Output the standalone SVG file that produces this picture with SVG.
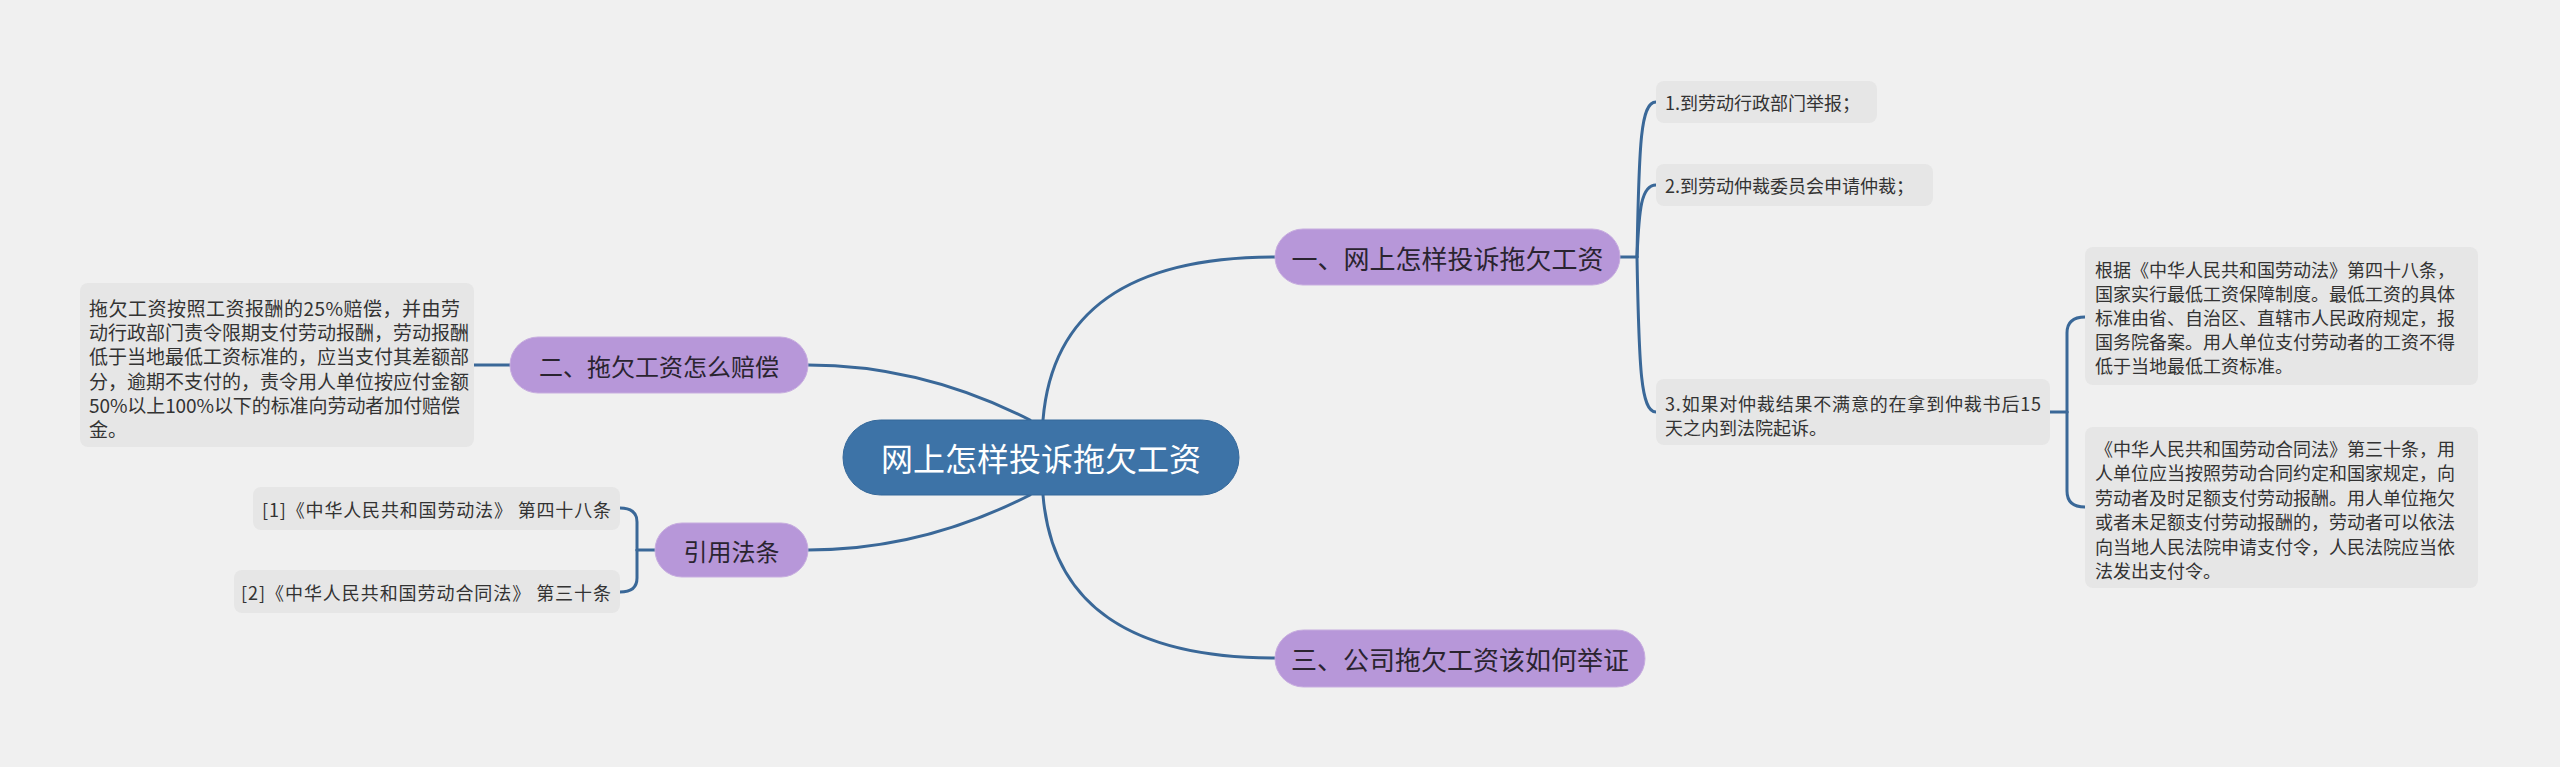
<svg xmlns="http://www.w3.org/2000/svg" width="2560" height="767" viewBox="0 0 2560 767">
<style>
text{font-family:"Noto Sans CJK SC","Noto Sans",sans-serif;dominant-baseline:central}
.conn{fill:none;stroke:#3a6898;stroke-width:3;stroke-linecap:round}
.leaf{fill:#e6e6e6}
.lt{font-size:18px;fill:#333333}
.lt19{font-size:19px;fill:#333333}
.sub{fill:#b797d9;stroke:#c7addf;stroke-width:1}
.st{fill:#2a2430;text-anchor:middle}
</style>
<rect width="2560" height="767" fill="#f0f0f0"/>
<g id="connectors">
<path class="conn" d="M1043,420 C1052,310 1130,257 1275,257"/>
<path class="conn" d="M1043,495 C1052,605 1130,658 1275,658"/>
<path class="conn" d="M1030,420 C975,392 900,365 808,365"/>
<path class="conn" d="M1030,495 C975,523 900,550 808,550"/>
<path class="conn" d="M474,365 L510,365"/>
<path class="conn" d="M655,550 L637,550"/>
<path class="conn" d="M637,550 L637,522 Q637,508 620,508"/>
<path class="conn" d="M637,550 L637,578 Q637,592 620,592"/>
<path class="conn" d="M1620,257 L1637,257"/>
<path class="conn" d="M1637,257 C1639,140 1641,102 1656,102"/>
<path class="conn" d="M1637,257 C1639,210 1641,185 1656,185"/>
<path class="conn" d="M1637,257 C1639,370 1641,412 1656,412"/>
<path class="conn" d="M2050,412 L2067,412"/>
<path class="conn" d="M2067,412 L2067,333 Q2067,317 2085,317"/>
<path class="conn" d="M2067,412 L2067,491 Q2067,507 2085,507"/>
</g>
<g id="center">
<rect x="843" y="420" width="396" height="75" rx="37.5" fill="#3d73a7" stroke="#35689a" stroke-width="1"/>
<text x="1041" y="457" font-size="32" fill="#ffffff" text-anchor="middle">网上怎样投诉拖欠工资</text>
</g>
<g id="n1">
<rect class="sub" x="1275" y="229" width="345" height="56" rx="28"/>
<text class="st" x="1447.5" y="257" font-size="26">一、网上怎样投诉拖欠工资</text>
</g>
<g id="n2">
<rect class="sub" x="510" y="337" width="298" height="56" rx="28"/>
<text class="st" x="659" y="365" font-size="24">二、拖欠工资怎么赔偿</text>
</g>
<g id="n3">
<rect class="sub" x="1275" y="630" width="370" height="57" rx="28.5"/>
<text class="st" x="1460" y="658.5" font-size="26">三、公司拖欠工资该如何举证</text>
</g>
<g id="n4">
<rect class="sub" x="655" y="523" width="153" height="54" rx="27"/>
<text class="st" x="731.5" y="550" font-size="24">引用法条</text>
</g>
<g id="leaf-1-1">
<rect class="leaf" x="1656" y="81" width="221" height="42" rx="8"/>
<text class="lt" x="1665" y="102">1.到劳动行政部门举报；</text>
</g>
<g id="leaf-1-2">
<rect class="leaf" x="1656" y="164" width="277" height="42" rx="8"/>
<text class="lt" x="1665" y="185">2.到劳动仲裁委员会申请仲裁；</text>
</g>
<g id="leaf-1-3">
<rect class="leaf" x="1656" y="379" width="394" height="66" rx="8"/>
<text class="lt" x="1665" y="403" textLength="376" lengthAdjust="spacing">3.如果对仲裁结果不满意的在拿到仲裁书后15</text>
<text class="lt" x="1665" y="427">天之内到法院起诉。</text>
</g>
<g id="leaf-1-3-1">
<rect class="leaf" x="2085" y="247" width="393" height="138" rx="8"/>
<text class="lt" x="2095" y="269">根据《中华人民共和国劳动法》第四十八条，</text>
<text class="lt" x="2095" y="293">国家实行最低工资保障制度。最低工资的具体</text>
<text class="lt" x="2095" y="317">标准由省、自治区、直辖市人民政府规定，报</text>
<text class="lt" x="2095" y="341">国务院备案。用人单位支付劳动者的工资不得</text>
<text class="lt" x="2095" y="365">低于当地最低工资标准。</text>
</g>
<g id="leaf-1-3-2">
<rect class="leaf" x="2085" y="427" width="393" height="161" rx="8"/>
<text class="lt" x="2095" y="448">《中华人民共和国劳动合同法》第三十条，用</text>
<text class="lt" x="2095" y="472">人单位应当按照劳动合同约定和国家规定，向</text>
<text class="lt" x="2095" y="497">劳动者及时足额支付劳动报酬。用人单位拖欠</text>
<text class="lt" x="2095" y="521">或者未足额支付劳动报酬的，劳动者可以依法</text>
<text class="lt" x="2095" y="546">向当地人民法院申请支付令，人民法院应当依</text>
<text class="lt" x="2095" y="570">法发出支付令。</text>
</g>
<g id="leaf-2-1">
<rect class="leaf" x="80" y="283" width="394" height="164" rx="8"/>
<text class="lt19" x="89" y="307" textLength="371" lengthAdjust="spacing">拖欠工资按照工资报酬的25%赔偿，并由劳</text>
<text class="lt19" x="89" y="331">动行政部门责令限期支付劳动报酬，劳动报酬</text>
<text class="lt19" x="89" y="355">低于当地最低工资标准的，应当支付其差额部</text>
<text class="lt19" x="89" y="380">分，逾期不支付的，责令用人单位按应付金额</text>
<text class="lt19" x="89" y="404" textLength="371" lengthAdjust="spacing">50%以上100%以下的标准向劳动者加付赔偿</text>
<text class="lt19" x="89" y="428">金。</text>
</g>
<g id="leaf-4-1">
<rect class="leaf" x="253" y="487" width="367" height="43" rx="8"/>
<text class="lt" x="611" y="508.5" text-anchor="end" textLength="349" lengthAdjust="spacing">[1]《中华人民共和国劳动法》 第四十八条</text>
</g>
<g id="leaf-4-2">
<rect class="leaf" x="234" y="570" width="386" height="43" rx="8"/>
<text class="lt" x="611" y="591.5" text-anchor="end" textLength="370" lengthAdjust="spacing">[2]《中华人民共和国劳动合同法》 第三十条</text>
</g>
</svg>
